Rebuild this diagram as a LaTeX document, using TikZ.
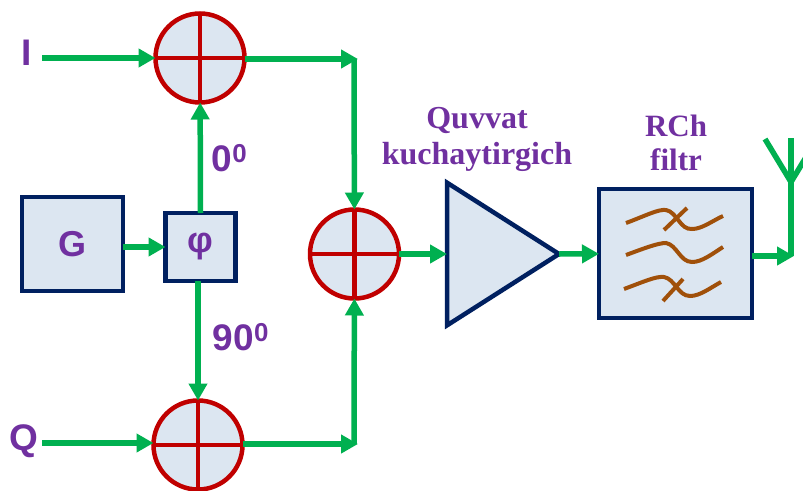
\documentclass[tikz,border=0pt]{standalone}
\usepackage{fontspec}
\setmainfont{Liberation Sans}
\newfontfamily\labelserif{Liberation Serif}
\usetikzlibrary{arrows.meta,shapes.geometric}
\definecolor{linegreen}{HTML}{00B050}
\definecolor{boxnavy}{HTML}{002060}
\definecolor{boxfill}{HTML}{DCE6F1}
\definecolor{textpurple}{HTML}{7030A0}
\definecolor{sumred}{HTML}{C00000}
\definecolor{curvebrown}{HTML}{A0500A}

\begin{document}
\begin{tikzpicture}[%
    x=1pt, y=-1pt,
    blockbox/.style={rectangle, draw=boxnavy, fill=boxfill, line width=4.5pt, inner sep=0pt, outer sep=0pt, text=textpurple},
    summer/.style={circle, draw=sumred, fill=boxfill, line width=4.5pt, minimum size=89pt, inner sep=0pt, outer sep=0pt,
      path picture={
        \draw[sumred, line width=4.5pt] (path picture bounding box.north) -- (path picture bounding box.south);
        \draw[sumred, line width=4.5pt] (path picture bounding box.west) -- (path picture bounding box.east);
      }},
    flow/.style={-{Triangle[length=17pt,width=18pt]}, linegreen, line width=5.5pt},
    wire/.style={linegreen, line width=5.5pt},
    sanslabel/.style={font=\fontsize{37}{40}\selectfont\bfseries, text=textpurple, inner sep=0pt},
    seriflabel/.style={font=\labelserif\fontsize{32}{36}\selectfont\bfseries, text=textpurple, align=center, inner sep=0pt},
    curve/.style={curvebrown, line width=4pt},
  ]
  \clip (0,0) rectangle (803,490);

  % --- Blocks ---
  \node[blockbox, minimum width=101pt, minimum height=94pt, font=\fontsize{36}{38}\selectfont\bfseries] (gen) at (72.5,244) {G};
  \node[blockbox, minimum width=70pt, minimum height=68pt, font=\fontsize{36}{38}\selectfont\bfseries] (phase) at (200.5,247) {φ};
  \node[summer] (sumI) at (200,58) {};
  \node[summer] (sumQ) at (198,445) {};
  \node[summer] (sumOut) at (354.5,254) {};
  \node[draw=boxnavy, fill=boxfill, line width=4.5pt, isosceles triangle, isosceles triangle apex angle=65,
    minimum height=112pt, inner sep=0pt, outer sep=0pt, anchor=apex] (amp) at (559,254) {};
  \node[blockbox, minimum width=153pt, minimum height=129pt] (filt) at (675.5,253.5) {};

  % --- Labels ---
  \node[sanslabel] (labI) at (26.5,53) {I};
  \node[sanslabel] (labQ) at (24,441) {Q};
  \node[sanslabel] (lab0) at (229.5,158) {0\textsuperscript{0}};
  \node[sanslabel] (lab90) at (241,337) {90\textsuperscript{0}};
  \node[seriflabel] (labamp) at (477,139) {Quvvat\\kuchaytirgich};
  \node[seriflabel, font=\labelserif\fontsize{31}{34}\selectfont\bfseries] (labfilt) at (676,143) {RCh\\filtr};

  % --- Free ends ---
  \coordinate (inI) at (42,58);
  \coordinate (inQ) at (42,443);
  \coordinate (topj) at (358,59);
  \coordinate (botj) at (358,444);
  \coordinate (sumjt) at (354,59);
  \coordinate (sumjb) at (354,444);
  \coordinate (antj) at (794,256);
  \coordinate (antbase) at (791,182);
  \coordinate (armL) at (765,139);
  \coordinate (armM) at (791,138);
  \coordinate (armR) at (817,139);

  % --- Connectors ---
  \draw[flow] (inI) -- (sumI.west |- inI);
  \draw[flow] (inQ) -- (sumQ.west |- inQ);
  \draw[flow] (gen.east |- phase) -- (phase);
  \draw[flow] (phase.north) -- (sumI);
  \draw[flow] (sumQ |- phase.south) -- (sumQ);
  \draw[flow] (sumI.east |- topj) -- (topj);
  \draw[flow] (sumjt) -- (sumOut);
  \draw[flow] (sumQ.east |- botj) -- (botj);
  \draw[flow] (sumjb) -- (sumOut);
  \draw[flow] (sumOut) -- (amp.lower side);
  \draw[flow] (amp.apex) -- (filt);
  \draw[flow] (filt.east |- antj) -- (antj);

  % Antenna
  \draw[wire] (791,256) -- (antbase) -- (armM);
  \draw[wire] (armL) -- (antbase) -- (armR);

  % Filter curves
  \draw[curve] (626,223) .. controls (645,216) and (658,209) .. (666,210) .. controls (677,212) and (680,230) .. (692,229) .. controls (702,229) and (712,221) .. (723,216);
  \draw[curve] (626,255) .. controls (645,248) and (658,243) .. (666,243) .. controls (677,245) and (680,262) .. (692,262) .. controls (702,262) and (712,254) .. (723,247);
  \draw[curve] (624,289) .. controls (643,282) and (656,276) .. (664,277) .. controls (675,279) and (678,296) .. (690,296) .. controls (700,296) and (710,288) .. (721,282);
  \draw[curve] (664,230) -- (687,208);
  \draw[curve] (663,301) -- (683,279);
\end{tikzpicture}
\end{document}
